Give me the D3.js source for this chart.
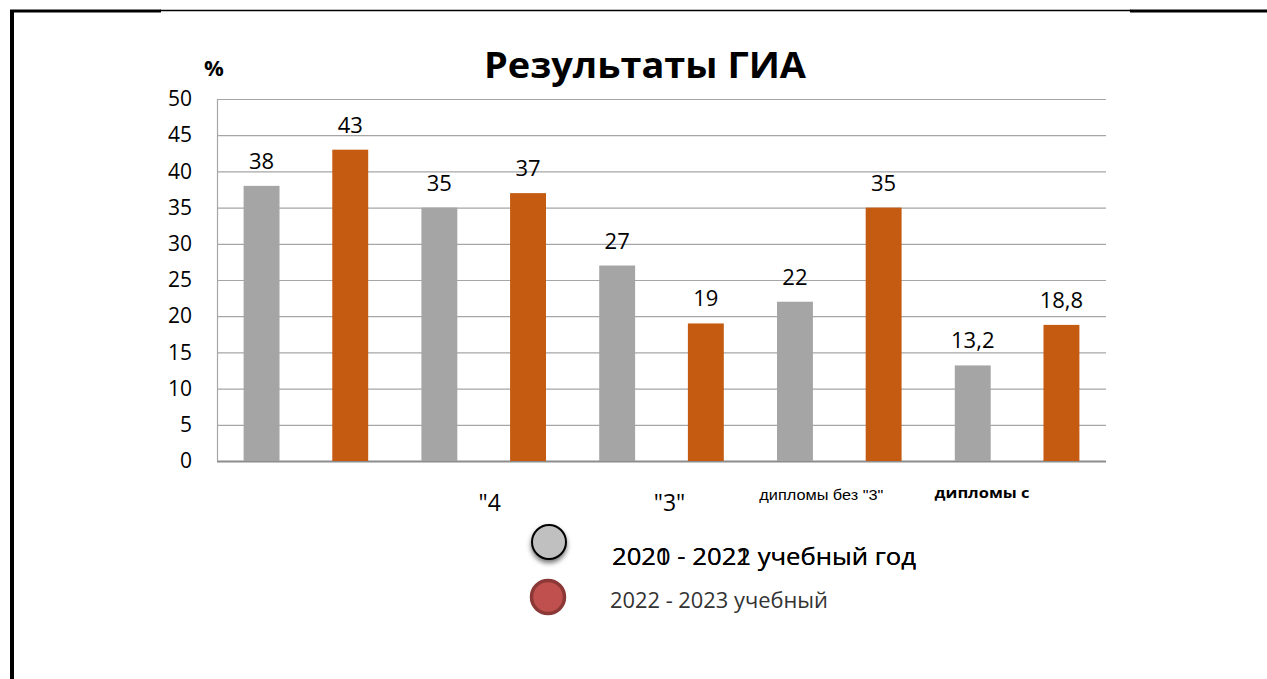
<!DOCTYPE html>
<html><head><meta charset="utf-8">
<script src="https://cdn.jsdelivr.net/npm/d3@7/dist/d3.min.js"></script>
<style>body{margin:0;background:#fff}svg{display:block}</style>
</head><body><svg id="c" width="1267" height="679"></svg>
<script>
const categories = ["5", "\"4", "\"3\"", "дипломы без \"3\"", "дипломы с"];
const series = ["2020 - 2021", "2022 - 2023"];
const values2021 = [38, 35, 27, 22, 13.2];
const values2023 = [43, 37, 19, 35, 18.8];
const valueLabels2021 = ["38", "35", "27", "22", "13,2"];
const valueLabels2023 = ["43", "37", "19", "35", "18,8"];
const yTicks = [0, 5, 10, 15, 20, 25, 30, 35, 40, 45, 50];
const legendLabels = ["2020 - 2021 учебный год", "2021 - 2022 учебный год", "2022 - 2023 учебный"];

const svg = d3.select("#c");
const font = "'Open Sans', sans-serif";
const m = {l: 217, r: 1106, t: 99, b: 461};

// frame
svg.append("line").attr("x1", 12).attr("x2", 12).attr("y1", 10).attr("y2", 679).attr("stroke", "#000").attr("stroke-width", 4);
svg.append("line").attr("x1", 10).attr("x2", 161).attr("y1", 11).attr("y2", 11).attr("stroke", "#000").attr("stroke-width", 3);
svg.append("line").attr("x1", 160).attr("x2", 1131).attr("y1", 10.5).attr("y2", 10.5).attr("stroke", "#000").attr("stroke-width", 1.5);
svg.append("line").attr("x1", 1130).attr("x2", 1267).attr("y1", 11).attr("y2", 11).attr("stroke", "#000").attr("stroke-width", 3);

const x0 = d3.scaleBand().domain(categories).range([m.l, m.r]).padding(0);
const x1 = d3.scaleBand().domain(series).range([0, x0.bandwidth()]).paddingInner(0.595).paddingOuter(0.3);
const y = d3.scaleLinear().domain([0, 50]).range([m.b, m.t]);

// gridlines
svg.append("g").selectAll("line").data(yTicks).join("line")
  .attr("x1", m.l).attr("x2", m.r).attr("y1", d => y(d) + 0.5).attr("y2", d => y(d) + 0.5)
  .attr("stroke", d => d === 0 ? "#8c8c8c" : "#a6a6a6").attr("stroke-width", d => d === 0 ? 2 : 1.2);
svg.append("line").attr("x1", m.l + 0.5).attr("x2", m.l + 0.5).attr("y1", m.t).attr("y2", m.b)
  .attr("stroke", "#a6a6a6").attr("stroke-width", 1.2);

// y axis labels
const yAxis = d3.axisLeft(y).tickValues(yTicks).tickSize(0).tickPadding(25);
const ya = svg.append("g").attr("transform", `translate(${m.l},0)`).call(yAxis);
ya.select(".domain").remove();
ya.selectAll("text").attr("font-family", font).attr("font-size", 21).attr("fill", "#000");

const colors = {"2020 - 2021": "#a5a5a5", "2022 - 2023": "#c55a11"};
const rows = categories.map((c, i) => ({c, vals: [
  {s: series[0], v: values2021[i], lab: valueLabels2021[i]},
  {s: series[1], v: values2023[i], lab: valueLabels2023[i]}]}));

const g = svg.append("g").selectAll("g").data(rows).join("g")
  .attr("transform", d => `translate(${x0(d.c)},0)`);
g.selectAll("rect").data(d => d.vals).join("rect")
  .attr("x", d => x1(d.s)).attr("width", x1.bandwidth())
  .attr("y", d => y(d.v)).attr("height", d => y(0) - y(d.v))
  .attr("fill", d => colors[d.s]);
g.selectAll("text").data(d => d.vals).join("text")
  .attr("x", d => x1(d.s) + x1.bandwidth() / 2).attr("y", d => y(d.v) - 17)
  .attr("text-anchor", "middle").attr("font-family", font).attr("font-size", 22).attr("fill", "#000")
  .text(d => d.lab);

// category labels (as seen, clipped / offset in original)
const catStyle = [
  {dx: 0, size: 21, weight: 400, family: font, show: false, y: 510},
  {dx: 6, size: 23, weight: 400, family: font, show: true, y: 511},
  {dx: 8, size: 23, weight: 400, family: font, show: true, y: 511},
  {dx: -18, size: 14, weight: 400, family: "'Liberation Sans Narrow', 'Liberation Sans', sans-serif", show: true, len: 124, y: 500},
  {dx: -35, size: 15, weight: 700, family: font, show: true, len: 95, y: 498}
];
const catData = categories.map((c, i) => ({c, st: catStyle[i]})).filter(d => d.st.show);
svg.append("g").selectAll("text").data(catData).join("text")
  .attr("x", d => x0(d.c) + x0.bandwidth() / 2 + d.st.dx)
  .attr("y", d => d.st.y)
  .attr("text-anchor", "middle")
  .attr("font-family", d => d.st.family)
  .attr("font-size", d => d.st.size)
  .attr("font-weight", d => d.st.weight)
  .attr("fill", "#000")
  .each(function(d) { if (d.st.len) d3.select(this).attr("textLength", d.st.len).attr("lengthAdjust", "spacingAndGlyphs"); })
  .text(d => d.c);

// title and unit
svg.append("text").attr("x", 645).attr("y", 78).attr("text-anchor", "middle")
  .attr("font-family", font).attr("font-weight", 700).attr("font-size", 36).attr("fill", "#000")
  .attr("textLength", 322).attr("lengthAdjust", "spacingAndGlyphs")
  .text("Результаты ГИА");
svg.append("text").attr("x", 214).attr("y", 76).attr("text-anchor", "middle")
  .attr("font-family", font).attr("font-weight", 700).attr("font-size", 22).attr("fill", "#000").text("%");

// legend
const defs = svg.append("defs");
const f = defs.append("filter").attr("id", "sh").attr("x", "-50%").attr("y", "-50%").attr("width", "200%").attr("height", "200%");
f.append("feDropShadow").attr("dx", 0).attr("dy", 3).attr("stdDeviation", 2.5).attr("flood-color", "#000").attr("flood-opacity", 0.55);
svg.append("circle").attr("cx", 549).attr("cy", 542).attr("r", 17).attr("fill", "#c0c0c0")
  .attr("stroke", "#000").attr("stroke-width", 2).attr("filter", "url(#sh)");
svg.append("circle").attr("cx", 548).attr("cy", 597).attr("r", 16.5).attr("fill", "#c0504d")
  .attr("stroke", "#8c3836").attr("stroke-width", 3.5);
[legendLabels[0], legendLabels[1]].forEach(t => {
  svg.append("text").attr("x", 612).attr("y", 565).attr("font-family", font)
    .attr("font-size", 23).attr("font-weight", 400).attr("fill", "#000")
    .attr("textLength", 304).attr("lengthAdjust", "spacingAndGlyphs").text(t);
});
svg.append("text").attr("x", 610).attr("y", 608).attr("font-family", "'Liberation Sans Narrow', 'Open Sans', sans-serif")
  .attr("font-size", 21).attr("fill", "#333").attr("textLength", 218).attr("lengthAdjust", "spacingAndGlyphs")
  .text(legendLabels[2]);
</script></body></html>
